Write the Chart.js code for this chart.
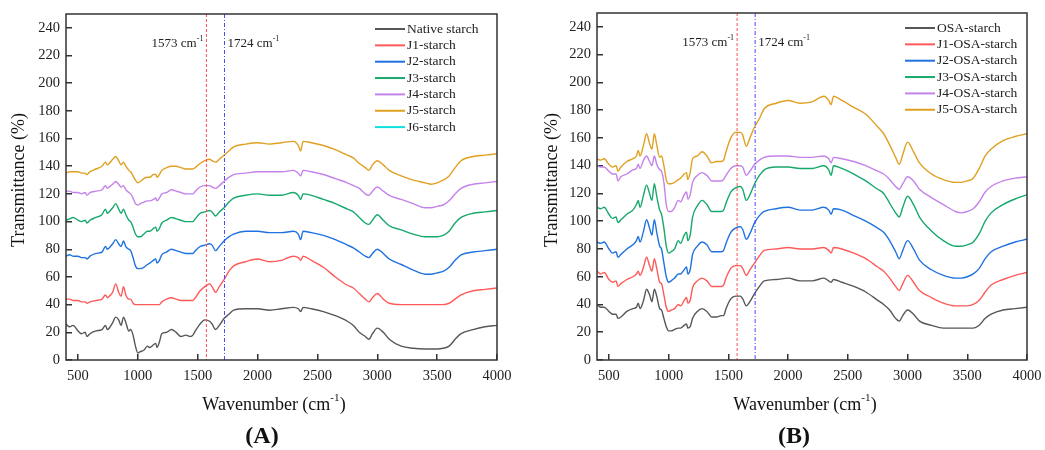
<!DOCTYPE html>
<html>
<head>
<meta charset="utf-8">
<script src="https://cdn.jsdelivr.net/npm/chart.js@4.4.1/dist/chart.umd.min.js"></script>
<style>
  html, body { margin: 0; padding: 0; background: #fff; }
  canvas { position: absolute; top: 0; }
  #chartA { left: 0; }
  #chartB { left: 520px; }
</style>
</head>
<body>
<canvas id="chartA" width="520" height="450"></canvas>
<canvas id="chartB" width="525" height="450"></canvas>
<script>
// wavenumber positions (cm-1) shared by every spectrum
const wavenumbers = [400,430,460,500,530,560,575,600,650,700,
  730,745,760,790,815,840,860,880,900,925,
  940,960,980,1000,1020,1050,1080,1100,1130,1150,
  1160,1180,1200,1240,1280,1320,1360,1400,1440,1460,
  1480,1520,1560,1600,1620,1650,1680,1720,1760,1800,
  1900,2000,2100,2200,2300,2340,2360,2380,2450,2550,
  2650,2750,2800,2850,2900,2930,2960,3000,3050,3100,
  3200,3300,3400,3450,3500,3550,3600,3650,3700,3800,
  3900,4000];

const markers = [1573, 1724];
const xTicks = [500, 1000, 1500, 2000, 2500, 3000, 3500, 4000];
const yTicks = [0, 20, 40, 60, 80, 100, 120, 140, 160, 180, 200, 220, 240];

// panel A
const labelsA = ["Native starch", "J1-starch", "J2-starch", "J3-starch", "J4-starch", "J5-starch", "J6-starch"];
const nativeStarch = [26,24,25,21,19,20,17,19,21,22,
  25,22,23,27,31,29,25,31,27,21,
  22,18,10,5,6,7,10,9,11,12,
  9,13,19,20,22,20,17,18,17,18,
  21,26,29,28,26,22,25,30,33,36,
  37,37,36,37,38,37,35,38,37,35,
  32,28,25,20,17,15,19,23,20,15,
  10,8.5,8,8,8,8.5,10,15,19,22,
  24,25];
const j1Starch = [44,44,43,43,42,42,41,42,43,44,
  47,45,46,49,55,49,46,53,47,44,
  44,41,40,40,40,40,40,40,40,40,
  40,40,42,44,45,44,43,43,43,43,
  45,50,53,55,53,49,53,58,64,68,
  71,73,71,72,75,74,72,75,72,67,
  60,54,52,48,44,42,45,48,44,41,
  40,40,40,40,40,40,41,44,47,50,
  51,52];
const j2Starch = [75,76,75,75,74,74,73,75,77,78,
  82,80,81,84,87,84,82,86,82,80,
  79,74,68,66,66,67,69,70,72,73,
  70,72,76,78,80,79,78,77,77,77,
  79,82,83,84,83,79,82,86,89,91,
  93,93,92,92,93,91,87,93,92,90,
  87,83,81,78,75,74,77,80,77,73,
  69,65,62,62,63,64,67,72,76,78,
  79,80];
const j3Starch = [101,102,103,101,100,101,99,101,103,105,
  109,106,107,110,113,109,106,109,105,101,
  100,96,91,89,89,91,93,93,95,96,
  93,95,99,101,103,102,101,100,100,100,
  102,106,107,108,107,104,107,110,114,117,
  119,120,119,119,121,119,116,120,119,116,
  113,109,107,103,99,98,101,105,101,97,
  94,91,89,89,89,90,93,99,103,106,
  107,108];
const j4Starch = [122,122,121,121,120,121,119,121,122,123,
  126,124,125,127,129,127,125,126,123,121,
  120,117,113,112,113,114,115,115,116,117,
  115,117,120,121,123,122,121,120,120,120,
  122,125,126,126,125,124,126,129,132,134,
  135,136,136,136,137,135,133,137,136,134,
  131,128,126,124,120,119,122,125,122,119,
  116,113,110,110,111,112,115,120,124,127,
  128,129];
const j5Starch = [135,136,136,136,135,135,134,136,138,140,
  143,141,142,145,147,144,141,143,140,137,
  136,133,130,128,129,131,132,132,134,134,
  132,134,137,139,140,140,139,138,138,138,
  139,142,144,145,144,143,145,148,151,154,
  156,157,156,157,158,155,151,158,157,155,
  152,148,146,142,139,137,141,144,141,137,
  133,130,128,127,128,130,133,139,144,147,
  148,149];
const j6Starch = []; // only shown in the legend

// panel B
const labelsB = ["OSA-starch", "J1-OSA-starch", "J2-OSA-starch", "J3-OSA-starch", "J4-OSA-starch", "J5-OSA-starch"];
const osaStarch = [40,38,38,35,33,33,30,31,35,37,
  38,41,37,43,51,47,42,51,46,37,
  36,30,24,21,21,22,23,23,25,26,
  23,24,30,35,37,35,31,31,32,32,
  37,44,46,46,44,39,42,48,53,57,
  58,59,57,57,59,57,56,58,56,53,
  49,43,40,36,30,28,32,36,33,28,
  25,23,23,23,23,23,25,30,33,36,
  37,38];
const j1Osa = [64,62,63,58,56,57,53,55,58,60,
  62,64,61,67,74,68,64,73,66,56,
  55,47,38,35,36,37,40,39,43,45,
  41,43,52,57,59,57,53,53,53,54,
  59,66,68,68,66,61,65,70,75,79,
  80,81,80,80,81,79,77,81,80,77,
  73,67,64,59,53,50,55,61,56,50,
  45,41,39,39,39,40,43,49,54,58,
  61,63];
const j2Osa = [85,84,85,80,77,78,74,76,80,83,
  86,89,85,93,101,95,90,101,92,82,
  80,70,60,56,57,59,62,62,65,67,
  62,65,76,82,85,83,78,78,78,79,
  84,92,95,96,94,87,91,99,104,107,
  109,110,108,108,110,108,105,109,108,104,
  100,95,92,86,78,73,79,86,80,72,
  65,61,59,59,60,62,66,73,78,82,
  85,87];
const j3Osa = [110,109,110,105,102,103,99,101,105,108,
  112,115,110,119,126,120,115,127,118,108,
  105,95,82,77,78,80,86,84,90,92,
  86,90,103,111,115,112,107,107,107,108,
  113,121,124,125,123,115,119,127,133,137,
  139,139,138,138,140,137,133,140,138,134,
  129,123,120,113,106,103,110,118,112,103,
  93,86,82,82,83,85,91,100,106,112,
  116,119];
const j4Osa = [140,139,139,136,134,134,129,132,134,137,
  138,141,138,144,147,143,140,147,141,137,
  136,128,112,107,107,110,115,114,119,121,
  116,119,128,133,135,133,129,129,129,130,
  133,138,140,140,139,133,136,141,144,146,
  147,147,146,146,147,145,142,146,145,143,
  140,136,134,130,125,123,127,132,129,123,
  117,112,107,106,107,109,114,121,125,129,
  131,132];
const j5Osa = [145,144,145,141,139,140,136,139,143,145,
  147,151,147,155,163,156,152,163,155,146,
  147,140,130,127,127,128,130,131,134,135,
  130,135,145,147,150,147,142,143,143,144,
  150,160,164,164,162,154,160,168,174,181,
  185,187,185,186,190,187,184,190,187,182,
  177,168,163,155,146,141,148,157,150,142,
  134,130,128,128,129,131,138,147,152,158,
  161,163];

const colors = ["#575757", "#ff5a5a", "#1f72e0", "#17a86b", "#c483ea", "#e0a021", "#10e0e0"];
const SERIF = '"Liberation Serif", "Times New Roman", serif';

function toPoints(values) {
  return values.map((v, i) => ({ x: wavenumbers[i], y: v }));
}

// text with a small raised part, e.g. cm-1
function supText(ctx, parts, x, y, size, align) {
  const small = size * 0.62;
  ctx.font = size + "px " + SERIF;
  const w1 = ctx.measureText(parts[0]).width;
  const w3 = ctx.measureText(parts[2]).width;
  ctx.font = small + "px " + SERIF;
  const w2 = ctx.measureText(parts[1]).width;
  const total = w1 + w2 + w3;
  let start = x;
  if (align === "center") start = x - total / 2;
  if (align === "right") start = x - total;
  ctx.textAlign = "left";
  ctx.textBaseline = "middle";
  ctx.font = size + "px " + SERIF;
  ctx.fillText(parts[0], start, y);
  ctx.fillText(parts[2], start + w1 + w2, y);
  ctx.font = small + "px " + SERIF;
  ctx.fillText(parts[1], start + w1, y - size * 0.38);
}

const decorPlugin = {
  id: "decor",
  afterDraw(chart, args, opts) {
    const ctx = chart.ctx;
    const a = chart.chartArea;
    const xs = chart.scales.x;
    ctx.save();

    // marker lines
    const p1 = xs.getPixelForValue(markers[0]);
    const p2 = xs.getPixelForValue(markers[1]);
    ctx.lineWidth = 1;
    ctx.strokeStyle = "#ff5050";
    ctx.setLineDash([3, 2]);
    ctx.beginPath(); ctx.moveTo(p1, a.top); ctx.lineTo(p1, a.bottom); ctx.stroke();
    ctx.strokeStyle = "#4a4aff";
    ctx.setLineDash([4, 2, 1, 2]);
    ctx.beginPath(); ctx.moveTo(p2, a.top); ctx.lineTo(p2, a.bottom); ctx.stroke();
    ctx.setLineDash([]);

    ctx.fillStyle = "#222";
    supText(ctx, [markers[0] + " cm", "-1", ""], p1 - 3, a.top + 29.5, 13, "right");
    supText(ctx, [markers[1] + " cm", "-1", ""], p2 + 3, a.top + 29.5, 13, "left");

    // frame
    ctx.strokeStyle = "#333";
    ctx.lineWidth = 1.5;
    ctx.strokeRect(a.left, a.top, a.right - a.left, a.bottom - a.top);

    // legend
    chart.data.datasets.forEach((ds, i) => {
      const ly = a.top + 15 + i * 16.35;
      ctx.strokeStyle = ds.borderColor;
      ctx.lineWidth = 2;
      ctx.beginPath(); ctx.moveTo(a.right - 122, ly); ctx.lineTo(a.right - 92, ly); ctx.stroke();
      ctx.fillStyle = "#222";
      ctx.font = "13.5px " + SERIF;
      ctx.textAlign = "left";
      ctx.textBaseline = "middle";
      ctx.fillText(ds.label, a.right - 90, ly);
    });

    // axis titles
    ctx.fillStyle = "#111";
    ctx.save();
    ctx.translate(opts.yTitleX, 180);
    ctx.rotate(-Math.PI / 2);
    ctx.font = "18px " + SERIF;
    ctx.textAlign = "center";
    ctx.textBaseline = "middle";
    ctx.fillText("Transmittance (%)", 0, 0);
    ctx.restore();
    supText(ctx, ["Wavenumber (cm", "-1", ")"], opts.xTitleX, 405, 18, "center");

    ctx.font = "bold 24px " + SERIF;
    ctx.textAlign = "center";
    ctx.textBaseline = "middle";
    ctx.fillText("(" + opts.panel + ")", opts.panelX, 437);
    ctx.restore();
  }
};

function makeChart(id, names, series, o) {
  const datasets = series.map((s, i) => ({
    label: names[i],
    data: toPoints(s),
    borderColor: colors[i],
    backgroundColor: colors[i],
    borderWidth: 1.4,
    pointRadius: 0,
    cubicInterpolationMode: "monotone",
    fill: false
  }));
  return new Chart(document.getElementById(id), {
    type: "line",
    data: { datasets: datasets },
    plugins: [decorPlugin],
    options: {
      responsive: false,
      animation: false,
      layout: { padding: { left: 0, top: o.top, right: o.right, bottom: 0 } },
      plugins: {
        legend: { display: false },
        tooltip: { enabled: false },
        decor: o
      },
      scales: {
        x: {
          type: "linear",
          min: 400,
          max: 4000,
          afterBuildTicks: (s) => { s.ticks = xTicks.map(v => ({ value: v })); },
          afterFit: (s) => { s.height = 90; s.paddingLeft = 0; s.paddingRight = 0; },
          ticks: { color: "#222", padding: 13, autoSkip: false, maxRotation: 0,
                   callback: (v) => String(v), font: { family: SERIF, size: 14.5 } },
          grid: { drawOnChartArea: false, tickLength: -6, color: "#333", lineWidth: 1.5 },
          border: { display: false }
        },
        y: {
          min: 0,
          max: 250,
          afterBuildTicks: (s) => { s.ticks = yTicks.map(v => ({ value: v })); },
          afterFit: (s) => { s.width = o.yWidth; s.paddingTop = 0; s.paddingBottom = 0; },
          ticks: { color: "#222", padding: 12, autoSkip: false,
                   callback: (v) => String(v), font: { family: SERIF, size: 14.5 } },
          grid: { drawOnChartArea: false, tickLength: -6, color: "#333", lineWidth: 1.5 },
          border: { display: false }
        }
      }
    }
  });
}

var chartA = makeChart("chartA", labelsA,
  [nativeStarch, j1Starch, j2Starch, j3Starch, j4Starch, j5Starch, j6Starch],
  { panel: "A", top: 14, right: 23, yWidth: 66, yTitleX: 19, xTitleX: 274, panelX: 262 });
var chartB = makeChart("chartB", labelsB,
  [osaStarch, j1Osa, j2Osa, j3Osa, j4Osa, j5Osa],
  { panel: "B", top: 13, right: 18, yWidth: 77, yTitleX: 32, xTitleX: 285, panelX: 274 });
</script>
</body>
</html>
